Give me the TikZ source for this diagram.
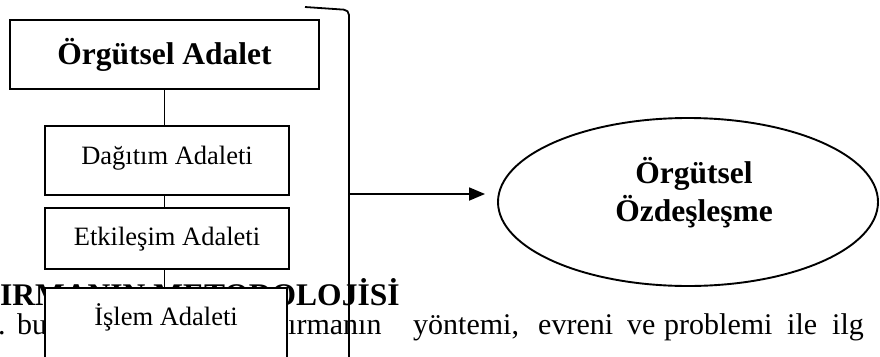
\documentclass[tikz,border=0pt]{standalone}
\usepackage{fontspec}
\setmainfont{Liberation Serif}
\usetikzlibrary{shapes.geometric,arrows.meta}
\begin{document}
\begin{tikzpicture}[x=1pt,y=-1pt,
  box/.style={draw, line width=2.5pt, fill=white, inner sep=0pt},
  conn/.style={line width=1.8pt},
  boldtxt/.style={font=\fontsize{31.5}{36}\selectfont\bfseries, inner sep=0pt, anchor=base},
  regtxt/.style={font=\fontsize{26.5}{30}\selectfont, inner sep=0pt, anchor=base},
  bodytxt/.style={font=\fontsize{30}{36}\selectfont, inner sep=0pt, anchor=base west},
  headtxt/.style={font=\fontsize{31.5}{36}\selectfont\bfseries, inner sep=0pt, anchor=base west}]
\useasboundingbox (0,0) rectangle (880,356);
\clip (0,0) rectangle (880,356);
\fill[white] (0,0) rectangle (880,356);
% background page text
\node[headtxt] (h1) at (0,305) {IRMANIN METODOLOJİSİ};
\node[bodytxt] (w0) at (-2,334) {.};
\node[bodytxt] (w1) at (17,334) {bu};
\node[bodytxt] (w2) at (288,334) {ırmanın};
\node[bodytxt] (w3) at (413,334) {yöntemi,};
\node[bodytxt] (w4) at (538,334) {evreni};
\node[bodytxt] (w5) at (627,334) {ve};
\node[bodytxt] (w6) at (664,334) {problemi};
\node[bodytxt] (w7) at (787,334) {ile};
\node[bodytxt] (w8) at (832,334) {ilg};
% boxes
\node[box, minimum width=309pt, minimum height=69pt] (b1) at (164.5,54.5) {};
\node[boldtxt] (t1) at (164.5,64) {Örgütsel Adalet};
\node[box, minimum width=244pt, minimum height=69pt] (b2) at (167,160.5) {};
\node[regtxt] (t2) at (167,164) {Dağıtım Adaleti};
\node[box, minimum width=244pt, minimum height=61pt] (b3) at (167,238.5) {};
\node[regtxt] (t3) at (167,245) {Etkileşim Adaleti};
\node[box, minimum width=242pt, minimum height=84pt] (b4) at (166,330) {};
\node[regtxt] (t4) at (166,325) {İşlem Adaleti};
% connectors
\draw[conn] (b1.south) -- (b1.south |- b2.north);
\draw[conn] (b1.south |- b2.south) -- (b1.south |- b3.north);
\draw[conn] (b1.south |- b3.south) -- (b1.south |- b4.north);
% bracket
\coordinate (bt) at (305,7);
\coordinate (bb) at (349,362);
\coordinate (as) at (349,194);
\draw[conn, rounded corners=5pt] (bt) -- (349,10) -- (bb);
% ellipse
\node[draw, ellipse, line width=1.9pt, minimum width=380pt, minimum height=168pt, inner sep=0pt] (el) at (688,202) {};
\node[boldtxt] (e1) at (694,183) {Örgütsel};
\node[boldtxt] (e2) at (694,221) {Özdeşleşme};
% arrow
\draw[conn, -{Triangle[length=16pt,width=13pt]}, shorten >=12pt] (as) -- (as -| el.west);
\end{tikzpicture}
\end{document}
